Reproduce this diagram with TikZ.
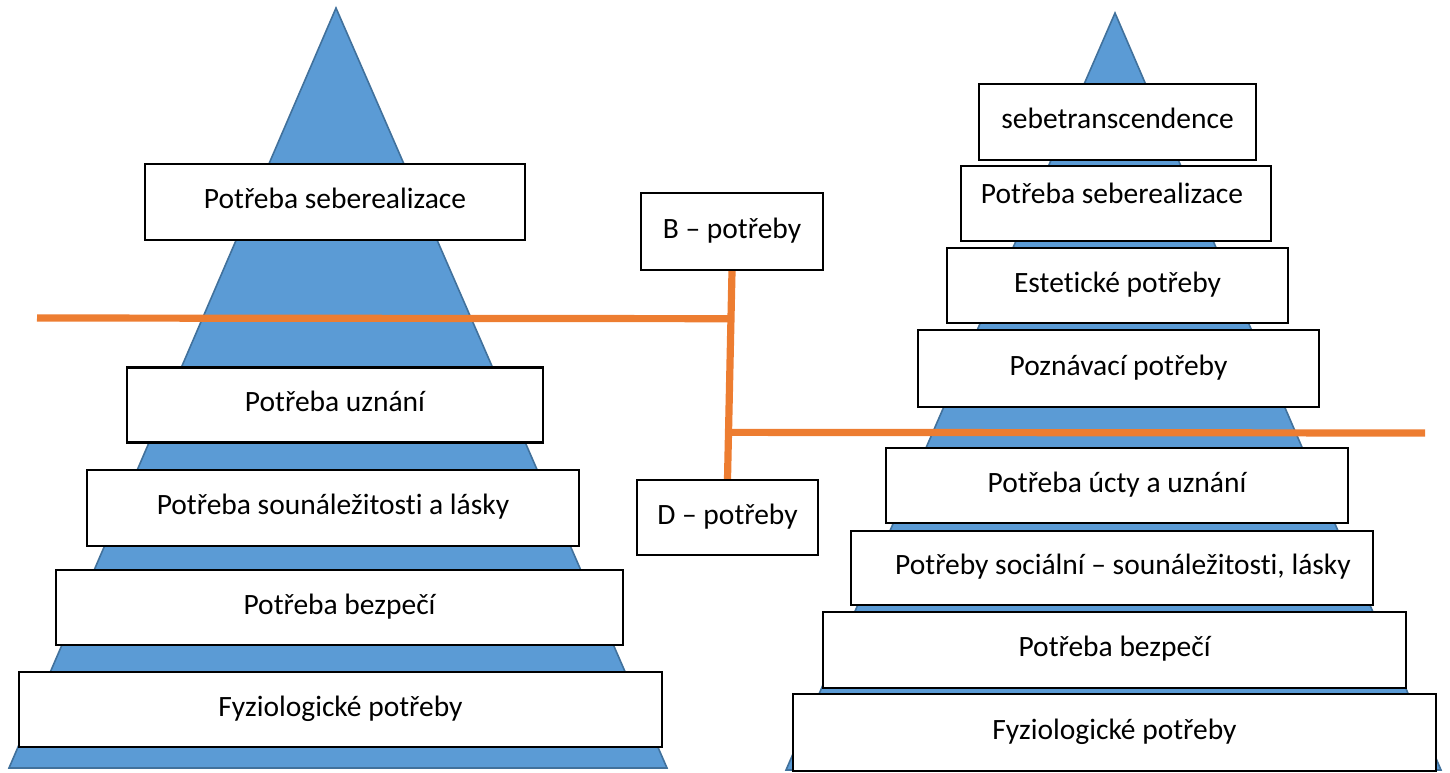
\documentclass[tikz,border=0pt]{standalone}
\usepackage{fontspec}
\setmainfont[Ligatures=NoCommon]{Carlito}
\usepackage{tikz}
\usetikzlibrary{calc}
\definecolor{pyrblue}{HTML}{5B9BD5}
\definecolor{pyredge}{HTML}{41719C}
\definecolor{split}{HTML}{ED7D31}

\begin{document}
\begin{tikzpicture}[x=0.5pt,y=-0.5pt,
  need/.style={draw=black,fill=white,line width=1.1pt,inner sep=0pt,
    text height=0.75em,text depth=0.1em,font=\fontsize{14.75}{17}\selectfont},
  pyr/.style={fill=pyrblue,draw=pyredge,line width=0.8pt},
  cut/.style={draw=split,line width=3.6pt}]
\useasboundingbox (0,0) rectangle (1450,772);
% the two pyramids
\draw[pyr] (336,8) -- (667,768) -- (9,768) -- cycle;
\draw[pyr] (1115,13) -- (1441,770) -- (786,770) -- cycle;
% Maslow, left
\node[need,minimum width=190pt,minimum height=38pt] (lsebe) at (335,202) {Potřeba seberealizace};
\node[need,minimum width=208pt,minimum height=37.5pt] (luzn) at (335,405) {Potřeba uznání};
\node[need,minimum width=246pt,minimum height=38pt] (lsoun) at (333,508) {Potřeba sounáležitosti a lásky};
\node[need,minimum width=283.5pt,minimum height=37.5pt] (lbezp) at (339.5,607.5) {Potřeba bezpečí};
\node[need,minimum width=321.5pt,minimum height=37.5pt] (lfyz) at (340.5,709.5) {Fyziologické potřeby};
% B and D
\node[need,minimum width=91pt,minimum height=38.5pt] (bneed) at (732,231.5) {B – potřeby};
\node[need,minimum width=90.5pt,minimum height=37.5pt] (dneed) at (727.5,517.5) {D – potřeby};
% extended pyramid, right
\node[need,minimum width=138.5pt,minimum height=38pt] (rtrans) at (1117.5,122) {sebetranscendence};
\node[need,minimum width=155pt,minimum height=37.5pt] (rsebe) at (1116,203.5) {\raisebox{3.5pt}{Potřeba seberealizace}\hspace*{4pt}};
\node[need,minimum width=170.5pt,minimum height=37.5pt] (rest) at (1117.5,285.5) {Estetické potřeby};
\node[need,minimum width=200.5pt,minimum height=38.5pt] (rpozn) at (1118.5,368.5) {Poznávací potřeby};
\node[need,minimum width=231pt,minimum height=37.5pt] (ructa) at (1117,485.5) {Potřeba úcty a uznání};
\node[need,minimum width=261pt,minimum height=37pt] (rsoc) at (1112,568) {\hspace*{11pt}Potřeby sociální – sounáležitosti, lásky};
\node[need,minimum width=291.5pt,minimum height=38pt] (rbezp) at (1114.5,650) {Potřeba bezpečí};
\node[need,minimum width=321.5pt,minimum height=38.5pt] (rfyz) at (1114.5,732.5) {Fyziologické potřeby};
% dividing lines
\coordinate (bsplit) at ($(bneed.south)!0.229!(dneed.north)$);
\coordinate (dsplit) at ($(bneed.south)!0.776!(dneed.north)$);
\coordinate (lend) at (37,318);
\coordinate (rend) at (1425,433);
\draw[cut] (bneed.south) -- (dneed.north);
\draw[cut] (lend) -- (bsplit);
\draw[cut] (dsplit) -- (rend);
\end{tikzpicture}
\end{document}
